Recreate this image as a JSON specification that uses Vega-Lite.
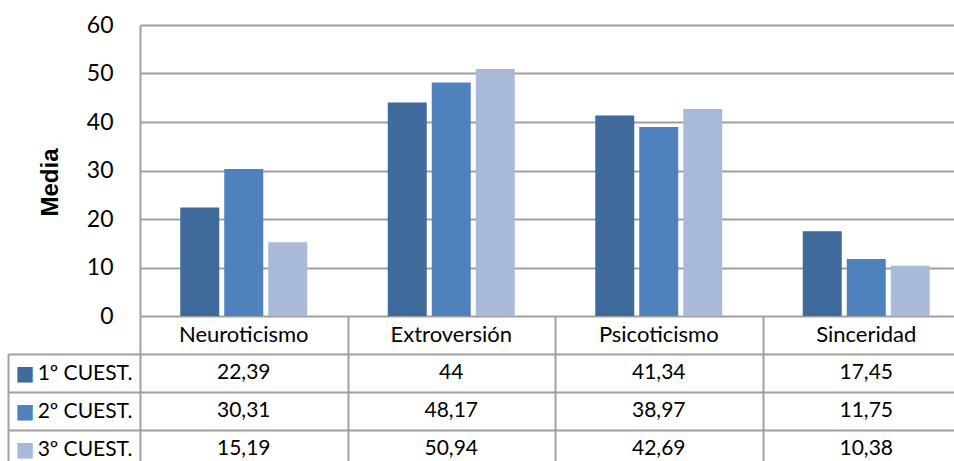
{
  "$schema": "https://vega.github.io/schema/vega-lite/v6.json",
  "background": "white",
  "padding": {"top": 14, "left": 7, "right": 0, "bottom": 0},
  "bounds": "flush",
  "spacing": 0,
  "config": {
    "view": {"stroke": null},
    "font": "Lato",
    "locale": {"number": {"decimal": ",", "thousands": ".", "grouping": [3], "currency": ["", " €"]}}
  },
  "data": {
    "values": [
      {"dimension": "Neuroticismo", "cuest": "1º CUEST.", "media": 22.39},
      {"dimension": "Neuroticismo", "cuest": "2º CUEST.", "media": 30.31},
      {"dimension": "Neuroticismo", "cuest": "3º CUEST.", "media": 15.19},
      {"dimension": "Extroversión", "cuest": "1º CUEST.", "media": 44},
      {"dimension": "Extroversión", "cuest": "2º CUEST.", "media": 48.17},
      {"dimension": "Extroversión", "cuest": "3º CUEST.", "media": 50.94},
      {"dimension": "Psicoticismo", "cuest": "1º CUEST.", "media": 41.34},
      {"dimension": "Psicoticismo", "cuest": "2º CUEST.", "media": 38.97},
      {"dimension": "Psicoticismo", "cuest": "3º CUEST.", "media": 42.69},
      {"dimension": "Sinceridad", "cuest": "1º CUEST.", "media": 17.45},
      {"dimension": "Sinceridad", "cuest": "2º CUEST.", "media": 11.75},
      {"dimension": "Sinceridad", "cuest": "3º CUEST.", "media": 10.38}
    ]
  },
  "vconcat": [
    {
      "width": 830,
      "height": 291,
      "mark": {"type": "bar"},
      "encoding": {
        "x": {
          "field": "dimension",
          "type": "nominal",
          "sort": ["Neuroticismo", "Extroversión", "Psicoticismo", "Sinceridad"],
          "scale": {"paddingInner": 0.388, "paddingOuter": 0.194},
          "axis": null
        },
        "xOffset": {
          "field": "cuest",
          "type": "nominal",
          "sort": ["1º CUEST.", "2º CUEST.", "3º CUEST."],
          "scale": {"paddingInner": 0.114, "paddingOuter": 0}
        },
        "y": {
          "field": "media",
          "type": "quantitative",
          "scale": {"domain": [0, 60]},
          "axis": {
            "values": [0, 10, 20, 30, 40, 50, 60],
            "grid": true,
            "gridColor": "#A0A0A0",
            "gridWidth": 2,
            "domain": true,
            "domainColor": "#A0A0A0",
            "domainWidth": 2,
            "ticks": false,
            "labelFont": "Lato",
            "labelFontSize": 23,
            "labelColor": "black",
            "labelPadding": 27,
            "title": "Media",
            "titleFont": "Liberation Sans",
            "titleFontSize": 24,
            "titleFontWeight": "bold",
            "titleColor": "black",
            "titlePadding": 24,
            "titleY": 157
          }
        },
        "color": {
          "field": "cuest",
          "type": "nominal",
          "scale": {
            "domain": ["1º CUEST.", "2º CUEST.", "3º CUEST."],
            "range": ["#416A9C", "#4F81BD", "#A9B9D8"]
          },
          "legend": null
        }
      }
    },
    {
      "width": 830,
      "height": 152,
      "layer": [
        {
          "transform": [{"filter": "datum.cuest === '1º CUEST.'"}],
          "mark": {"type": "text", "font": "Lato", "fontSize": 22, "color": "black"},
          "encoding": {
            "x": {
              "field": "dimension",
              "type": "nominal",
              "sort": ["Neuroticismo", "Extroversión", "Psicoticismo", "Sinceridad"],
              "scale": {"paddingInner": 0, "paddingOuter": 0},
              "axis": {
                "orient": "top",
                "domain": false,
                "ticks": false,
                "labels": false,
                "title": null,
                "grid": true,
                "tickBand": "extent",
                "gridColor": "#A0A0A0",
                "gridWidth": 2
              }
            },
            "y": {
              "datum": " ",
              "type": "nominal",
              "scale": {
                "domain": [" ", "1º CUEST.", "2º CUEST.", "3º CUEST."],
                "paddingInner": 0,
                "paddingOuter": 0
              },
              "axis": {
                "orient": "left",
                "values": ["1º CUEST.", "2º CUEST.", "3º CUEST."],
                "title": null,
                "domain": false,
                "tickBand": "extent",
                "grid": true,
                "gridColor": "#A0A0A0",
                "gridWidth": 2,
                "ticks": true,
                "tickSize": 132,
                "tickWidth": 2,
                "tickColor": "#A0A0A0",
                "labelFont": "Lato",
                "labelFontSize": 21,
                "labelColor": "black",
                "labelAlign": "right",
                "labelPadding": -124
              }
            },
            "text": {"field": "dimension", "type": "nominal"}
          }
        },
        {
          "mark": {"type": "text", "font": "Lato", "fontSize": 21, "color": "black"},
          "encoding": {
            "x": {
              "field": "dimension",
              "type": "nominal",
              "sort": ["Neuroticismo", "Extroversión", "Psicoticismo", "Sinceridad"],
              "scale": {"paddingInner": 0, "paddingOuter": 0},
              "axis": {
                "orient": "top",
                "domain": false,
                "ticks": false,
                "labels": false,
                "title": null,
                "grid": true,
                "tickBand": "extent",
                "gridColor": "#A0A0A0",
                "gridWidth": 2
              }
            },
            "y": {
              "field": "cuest",
              "type": "nominal",
              "scale": {
                "domain": ["1º CUEST.", "2º CUEST.", "3º CUEST."],
                "range": [38, 152],
                "paddingInner": 0,
                "paddingOuter": 0
              },
              "axis": {
                "orient": "left",
                "offset": 132,
                "title": null,
                "domain": true,
                "domainColor": "#A0A0A0",
                "domainWidth": 2,
                "ticks": false,
                "grid": false,
                "labelExpr": "'■'",
                "labelFont": "DejaVu Sans",
                "labelFontSize": 20,
                "labelAlign": "left",
                "labelPadding": -7,
                "labelColor": {"expr": "datum.value === '1º CUEST.' ? '#416A9C' : datum.value === '2º CUEST.' ? '#4F81BD' : '#A9B9D8'"}
              }
            },
            "text": {"field": "media", "type": "quantitative", "format": ".2~f"}
          }
        }
      ],
      "resolve": {"scale": {"y": "independent"}, "axis": {"y": "independent"}}
    }
  ]
}
